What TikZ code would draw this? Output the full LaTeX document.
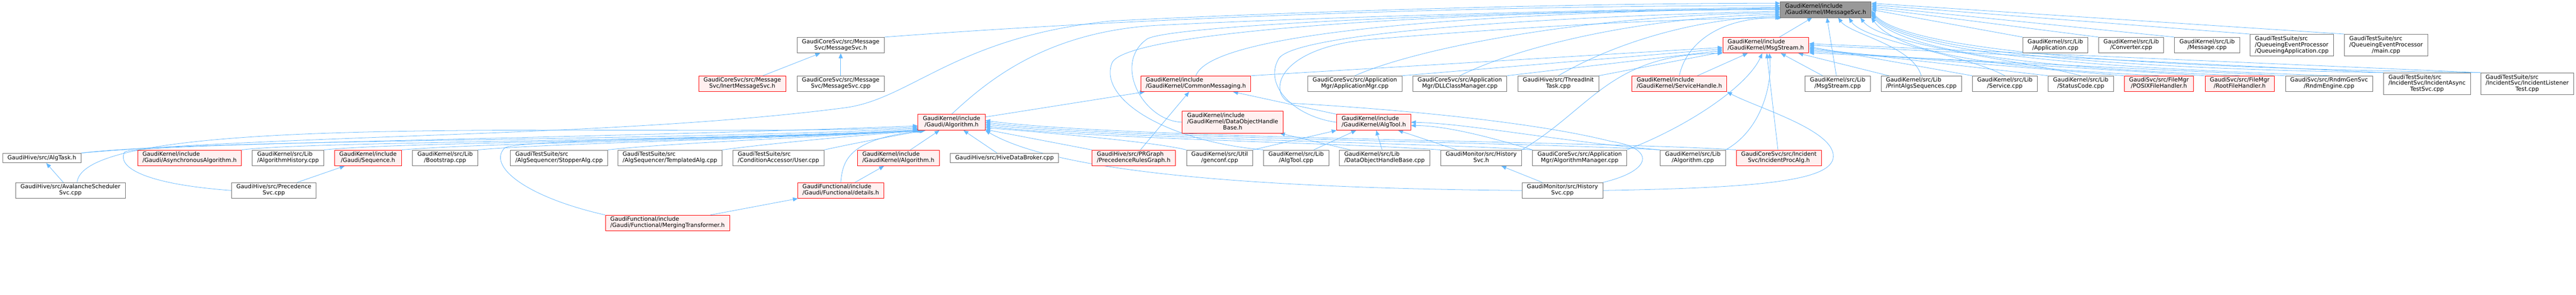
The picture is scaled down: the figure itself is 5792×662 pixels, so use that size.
\documentclass[tikz,border=0pt]{standalone}
\usepackage{fontspec}
\setmainfont{DejaVu Sans}
\usetikzlibrary{arrows.meta,backgrounds}
\definecolor{edgeblue}{RGB}{99,184,255}
\definecolor{nodegray}{RGB}{110,110,110}
\definecolor{nodered}{RGB}{255,0,0}
\definecolor{nodepink}{RGB}{255,240,240}
\definecolor{rootgray}{RGB}{153,153,153}
\newcommand{\flab}[2]{\begin{tabular}{@{}l@{}}#1\\\multicolumn{1}{@{}c@{}}{#2}\end{tabular}}
\tikzset{
    file/.style={draw=nodegray, fill=white, line width=1pt, inner xsep=11pt, inner ysep=2pt,
        font=\fontsize{12.85}{13.7}\selectfont, text=black},
    hot/.style={file, draw=nodered, fill=nodepink},
    mainfile/.style={file, fill=rootgray},
    oneline/.style={minimum height=21.7pt},
    twoline/.style={minimum height=35.3pt},
    threeline/.style={minimum height=49pt},
    dep/.style={draw=edgeblue, line width=0.9pt, -{Triangle[length=11pt,width=9pt]}},
}

\begin{document}
\begin{tikzpicture}[x=1pt,y=1pt]
    \useasboundingbox (0,0) rectangle (5792,662);

    \node[mainfile,twoline] (imsg) at (4105,640.3) {\flab{GaudiKernel/include}{/GaudiKernel/IMessageSvc.h}};

    \node[file,twoline] (msvch) at (1890.3,560.5) {\flab{GaudiCoreSvc/src/Message}{Svc/MessageSvc.h}};
    \node[hot,twoline] (msgh) at (3970.3,560.5) {\flab{GaudiKernel/include}{/GaudiKernel/MsgStream.h}};
    \node[file,twoline] (appcpp) at (4621.2,560.5) {\flab{GaudiKernel/src/Lib}{/Application.cpp}};
    \node[file,twoline] (convcpp) at (4791.8,560.5) {\flab{GaudiKernel/src/Lib}{/Converter.cpp}};
    \node[file,twoline] (messcpp) at (4962.5,560.5) {\flab{GaudiKernel/src/Lib}{/Message.cpp}};
    \node[file,threeline] (qapp) at (5153,560.5) {\flab{GaudiTestSuite/src\\/QueueingEventProcessor}{/QueueingApplication.cpp}};
    \node[file,threeline] (qmain) at (5365,560.5) {\flab{GaudiTestSuite/src\\/QueueingEventProcessor}{/main.cpp}};

    \node[hot,twoline] (inert) at (1669,473.8) {\flab{GaudiCoreSvc/src/Message}{Svc/InertMessageSvc.h}};
    \node[file,twoline] (msvccpp) at (1890.3,473.8) {\flab{GaudiCoreSvc/src/Message}{Svc/MessageSvc.cpp}};
    \node[hot,twoline] (cmsg) at (2688.8,473.8) {\flab{GaudiKernel/include}{/GaudiKernel/CommonMessaging.h}};
    \node[file,twoline] (appmgr) at (3046.3,473.8) {\flab{GaudiCoreSvc/src/Application}{Mgr/ApplicationMgr.cpp}};
    \node[file,twoline] (dllmgr) at (3282.3,473.8) {\flab{GaudiCoreSvc/src/Application}{Mgr/DLLClassManager.cpp}};
    \node[file,twoline] (thread) at (3503.8,473.8) {\flab{GaudiHive/src/ThreadInit}{Task.cpp}};
    \node[hot,twoline] (svch) at (3775.8,473.8) {\flab{GaudiKernel/include}{/GaudiKernel/ServiceHandle.h}};
    \node[file,twoline] (msgcpp) at (4131.8,473.8) {\flab{GaudiKernel/src/Lib}{/MsgStream.cpp}};
    \node[file,twoline] (printalg) at (4319.8,473.8) {\flab{GaudiKernel/src/Lib}{/PrintAlgsSequences.cpp}};
    \node[file,twoline] (svccpp) at (4507.8,473.8) {\flab{GaudiKernel/src/Lib}{/Service.cpp}};
    \node[file,twoline] (stcpp) at (4678.5,473.8) {\flab{GaudiKernel/src/Lib}{/StatusCode.cpp}};
    \node[hot,twoline] (posix) at (4854.3,473.8) {\flab{GaudiSvc/src/FileMgr}{/POSIXFileHandler.h}};
    \node[hot,twoline] (root) at (5035.8,473.8) {\flab{GaudiSvc/src/FileMgr}{/RootFileHandler.h}};
    \node[file,twoline] (rndm) at (5236.8,473.8) {\flab{GaudiSvc/src/RndmGenSvc}{/RndmEngine.cpp}};
    \node[file,threeline] (incasync) at (5457,473.8) {\flab{GaudiTestSuite/src\\/IncidentSvc/IncidentAsync}{TestSvc.cpp}};
    \node[file,threeline] (inclist) at (5682.2,473.8) {\flab{GaudiTestSuite/src\\/IncidentSvc/IncidentListener}{Test.cpp}};

    \node[hot,twoline] (galg) at (2139.5,387.3) {\flab{GaudiKernel/include}{/Gaudi/Algorithm.h}};
    \node[hot,threeline] (dohb) at (2771.7,387.5) {\flab{GaudiKernel/include\\/GaudiKernel/DataObjectHandle}{Base.h}};
    \node[hot,twoline] (algtoolh) at (3088.8,387.3) {\flab{GaudiKernel/include}{/GaudiKernel/AlgTool.h}};

    \node[file,oneline] (talg) at (94,307) {GaudiHive/src/AlgTask.h};
    \node[hot,twoline] (asyncalg) at (426.2,307.3) {\flab{GaudiKernel/include}{/Gaudi/AsynchronousAlgorithm.h}};
    \node[file,twoline] (alghist) at (647.7,307.3) {\flab{GaudiKernel/src/Lib}{/AlgorithmHistory.cpp}};
    \node[hot,twoline] (seqh) at (827.5,307.3) {\flab{GaudiKernel/include}{/Gaudi/Sequence.h}};
    \node[file,twoline] (boot) at (1000.8,307.3) {\flab{GaudiKernel/src/Lib}{/Bootstrap.cpp}};
    \node[file,twoline] (stopper) at (1257,307.3) {\flab{GaudiTestSuite/src}{/AlgSequencer/StopperAlg.cpp}};
    \node[file,twoline] (templ) at (1506.3,307.3) {\flab{GaudiTestSuite/src}{/AlgSequencer/TemplatedAlg.cpp}};
    \node[file,twoline] (user) at (1750.3,307.3) {\flab{GaudiTestSuite/src}{/ConditionAccessor/User.cpp}};
    \node[hot,twoline] (kalgh) at (2019.8,307.3) {\flab{GaudiKernel/include}{/GaudiKernel/Algorithm.h}};
    \node[file,oneline] (hive) at (2258.5,307) {GaudiHive/src/HiveDataBroker.cpp};
    \node[hot,twoline] (prg) at (2549,307.3) {\flab{GaudiHive/src/PRGraph}{/PrecedenceRulesGraph.h}};
    \node[file,twoline] (genconf) at (2742.3,307.3) {\flab{GaudiKernel/src/Util}{/genconf.cpp}};
    \node[file,twoline] (algtoolcpp) at (2914.3,307.3) {\flab{GaudiKernel/src/Lib}{/AlgTool.cpp}};
    \node[file,twoline] (dohbcpp) at (3113,307.3) {\flab{GaudiKernel/src/Lib}{/DataObjectHandleBase.cpp}};
    \node[file,twoline] (histh) at (3330.3,307.3) {\flab{GaudiMonitor/src/History}{Svc.h}};
    \node[file,twoline] (algmgr) at (3551.8,307.3) {\flab{GaudiCoreSvc/src/Application}{Mgr/AlgorithmManager.cpp}};
    \node[file,twoline] (algcpp) at (3806.3,307.3) {\flab{GaudiKernel/src/Lib}{/Algorithm.cpp}};
    \node[hot,twoline] (incproc) at (3999.7,307.3) {\flab{GaudiCoreSvc/src/Incident}{Svc/IncidentProcAlg.h}};

    \node[file,twoline] (aval) at (158.3,234.2) {\flab{GaudiHive/src/AvalancheScheduler}{Svc.cpp}};
    \node[file,twoline] (precsvc) at (615.7,234.2) {\flab{GaudiHive/src/Precedence}{Svc.cpp}};
    \node[hot,twoline] (details) at (1890.3,234.2) {\flab{GaudiFunctional/include}{/Gaudi/Functional/details.h}};
    \node[file,twoline] (histcpp) at (3513,234.2) {\flab{GaudiMonitor/src/History}{Svc.cpp}};

    \node[hot,twoline] (merging) at (1500.8,161) {\flab{GaudiFunctional/include}{/Gaudi/Functional/MergingTransformer.h}};

    \begin{pgfonlayer}{background}
    \fill[white] (0,0) rectangle (5792,662);

    \draw[dep] (msvch.north east) .. controls (2600,625) and (3400,650) .. (imsg.175);
    \draw[dep] (msgh) -- (imsg);
    \draw[dep] (msgcpp) -- (imsg);
    \draw[dep] (appcpp.north west) -- (imsg.0);
    \draw[dep] (convcpp.north west) -- (imsg.2);
    \draw[dep] (messcpp.north west) -- (imsg.4);
    \draw[dep] (qapp.north west) -- (imsg.6);
    \draw[dep] (qmain.north west) -- (imsg.8);
    \draw[dep] (cmsg.north) .. controls (2720,580) and (3200,630) .. (imsg.178);
    \draw[dep] (appmgr.north) .. controls (3200,560) and (3600,630) .. (imsg.184);
    \draw[dep] (dllmgr.north) .. controls (3420,560) and (3700,625) .. (imsg.186);
    \draw[dep] (thread.north) .. controls (3620,560) and (3800,620) .. (imsg.188);
    \draw[dep] (svch.north) .. controls (3790,560) and (3860,622) .. (imsg.south west);
    \draw[dep] (printalg.north) .. controls (4300,560) and (4160,585) .. ([xshift=28pt]imsg.south);
    \draw[dep] (svccpp.north) .. controls (4420,540) and (4190,570) .. ([xshift=52pt]imsg.south);
    \draw[dep] (stcpp.north) .. controls (4560,525) and (4230,560) .. ([xshift=78pt]imsg.south);
    \draw[dep] (posix.north) .. controls (4600,505) and (4280,525) .. (imsg.south east);
    \draw[dep] (root.north) .. controls (4750,505) and (4300,525) .. (imsg.-7);
    \draw[dep] (rndm.north) .. controls (4900,505) and (4300,525) .. (imsg.-5);
    \draw[dep] (incasync.north west) .. controls (5000,505) and (4300,525) .. (imsg.-3);
    \draw[dep] (inclist.north west) .. controls (5200,505) and (4300,520) .. (imsg.-1);
    \draw[dep] (talg.north east) .. controls (700,362) and (1400,355) .. (1900,420) .. controls (2050,440) and (2150,580) .. (2500,615) .. controls (3000,640) and (3600,655) .. (imsg.172);
    \draw[dep] (galg.north) .. controls (2220,480) and (2350,590) .. (2600,605) .. controls (3000,625) and (3600,640) .. (imsg.177);
    \draw[dep] (dohb.west) .. controls (2570,390) and (2500,520) .. (2580,575) .. controls (2650,610) and (3500,640) .. (imsg.179);
    \draw[dep] (algtoolcpp.north west) .. controls (2620,345) and (2470,440) .. (2500,520) .. controls (2530,600) and (3400,640) .. (imsg.180);
    \draw[dep] (algtoolh.west) .. controls (2910,400) and (2840,470) .. (2875,530) .. controls (2910,590) and (3500,625) .. (imsg.182);
    \draw[dep] (histcpp.north east) .. controls (3720,280) and (3720,330) .. (3620,345) .. controls (3400,400) and (3000,425) .. (2905,430) .. controls (2850,445) and (2860,560) .. (3100,575) .. controls (3400,600) and (3750,620) .. ([xshift=4pt]imsg.south west);

    \draw[dep] (cmsg.north east) -- (msgh.183);
    \draw[dep] (appmgr.north east) -- (msgh.185);
    \draw[dep] (dllmgr.north east) -- (msgh.187);
    \draw[dep] (thread.north east) -- (msgh.189);
    \draw[dep] (svch) -- (msgh);
    \draw[dep] (msgcpp) -- (msgh);
    \draw[dep] (printalg) -- (msgh);
    \draw[dep] (svccpp.north west) -- (msgh.-2);
    \draw[dep] (stcpp.north west) -- (msgh.-4);
    \draw[dep] (posix.north west) -- (msgh.-6);
    \draw[dep] (root.north west) -- (msgh.-8);
    \draw[dep] (rndm.north west) -- (msgh.-10);
    \draw[dep] (incasync.north west) -- (msgh.0);
    \draw[dep] (inclist.north west) -- (msgh.2);
    \draw[dep] (incproc) -- (msgh);
    \draw[dep] (algcpp.north east) .. controls (3960,370) and (3985,470) .. ([xshift=8pt]msgh.south);
    \draw[dep] (algmgr.north east) .. controls (3800,380) and (3930,470) .. ([xshift=-8pt]msgh.south);
    \draw[dep] (histh.north east) .. controls (3580,420) and (3620,540) .. (msgh.south west);

    \draw[dep] (inert) -- (msvch);
    \draw[dep] (msvccpp) -- (msvch);

    \draw[dep] (galg) -- (cmsg);
    \draw[dep] (prg) -- (cmsg);
    \draw[dep] (algtoolh) -- (cmsg);

    \draw[dep] (talg.north east) .. controls (450,350) and (1500,345) .. (galg.190);
    \draw[dep] ([xshift=15pt]aval.north) .. controls (190,420) and (1500,350) .. (galg.188);
    \draw[dep] (precsvc.west) .. controls (330,248) and (262,285) .. (280,320) .. controls (285,340) and (1300,350) .. (galg.186);
    \draw[dep] (asyncalg.north east) .. controls (700,345) and (1600,345) .. (galg.192);
    \draw[dep] (alghist.north east) .. controls (900,343) and (1650,347) .. (galg.south west);
    \draw[dep] (seqh.north east) .. controls (1100,342) and (1700,348) .. ([xshift=3pt]galg.south west);
    \draw[dep] (boot.north east) .. controls (1250,341) and (1750,350) .. ([xshift=6pt]galg.south west);
    \draw[dep] (stopper.north east) .. controls (1500,340) and (1800,352) .. ([xshift=9pt]galg.south west);
    \draw[dep] (merging.north west) .. controls (1180,220) and (1095,290) .. (1135,330) .. controls (1170,350) and (1750,352) .. ([xshift=11pt]galg.south west);
    \draw[dep] (templ.north east) .. controls (1720,338) and (1880,354) .. ([xshift=13pt]galg.south west);
    \draw[dep] (user.north east) .. controls (1920,340) and (2000,355) .. ([xshift=15pt]galg.south west);
    \draw[dep] (details.north) .. controls (1895,300) and (1905,350) .. ([xshift=18pt]galg.south west);
    \draw[dep] (kalgh) -- (galg);
    \draw[dep] (hive) -- (galg);
    \draw[dep] (prg.north west) -- (galg.-12);
    \draw[dep] (genconf.north west) .. controls (2600,342) and (2400,360) .. (galg.-9);
    \draw[dep] (histh.north west) .. controls (3000,342) and (2450,350) .. (galg.-6);
    \draw[dep] (algmgr.north west) .. controls (3200,342) and (2480,350) .. (galg.-3);
    \draw[dep] (algcpp.north west) .. controls (3400,344) and (2500,350) .. (galg.0);
    \draw[dep] (incproc.north west) .. controls (3600,345) and (2520,350) .. (galg.3);
    \draw[dep] (histcpp.west) .. controls (2700,240) and (2350,290) .. (galg.south east);

    \draw[dep] (algtoolcpp) -- (algtoolh);
    \draw[dep] (dohbcpp) -- (algtoolh);
    \draw[dep] (histh) -- (algtoolh);
    \draw[dep] (genconf.north east) -- (algtoolh.south west);
    \draw[dep] (algcpp.north west) .. controls (3500,345) and (3300,385) .. (algtoolh.east);
    \draw[dep] (algmgr.north west) .. controls (3380,345) and (3260,380) .. (algtoolh.-5);
    \draw[dep] (dohbcpp) -- (dohb);

    \draw[dep] (aval) -- (talg);
    \draw[dep] (precsvc) -- (seqh);
    \draw[dep] (details) -- (kalgh);
    \draw[dep] (merging) -- (details);
    \draw[dep] (histcpp) -- (histh);
    \draw[dep] (histcpp.east) .. controls (3950,240) and (4120,255) .. (4122,310) .. controls (4125,370) and (3950,420) .. (svch.south east);
    \end{pgfonlayer}
\end{tikzpicture}
\end{document}
